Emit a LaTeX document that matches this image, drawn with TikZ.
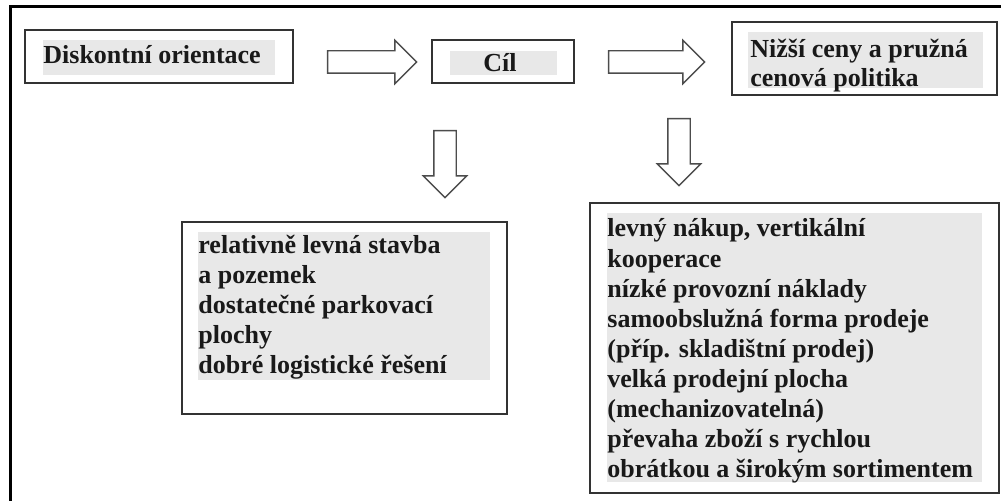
\documentclass[tikz,border=0pt]{standalone}
\usepackage{fontspec}
\setmainfont{Liberation Serif}
\usetikzlibrary{shapes.arrows}

\tikzset{
  frame/.style={rectangle, draw=black!80, line width=1pt, inner sep=0pt},
  shade/.style={rectangle, fill=black!9, inner sep=0pt},
  line/.style={anchor=base west, inner sep=0pt, text=black!90,
    font=\fontsize{13}{15}\selectfont\bfseries},
  blockarrow/.style={single arrow, draw=black!70, line width=0.7pt, fill=white,
    inner xsep=0pt, inner ysep=5.25pt, single arrow head extend=5.25pt,
    single arrow tip angle=90}
}

\begin{document}
\begin{tikzpicture}[x=0.5pt,y=-0.5pt]
                \useasboundingbox (0,0) rectangle (1001,501);
                \clip (0,0) rectangle (1001,501);
                % Draw the outer frame (cut off at the right and bottom)
                \draw[line width=1.5pt] (10,520) -- (10,7) -- (1020,7);
                % Draw the boxes of the top row
                \node[frame, minimum width=134pt, minimum height=26.5pt] (disk) at (159,56.5) {};
                \node[shade, minimum width=116pt, minimum height=17.5pt] (diskG) at (159,57.5) {};
                \node[line] (diskT) at (43,64) {Diskontní orientace};
                \node[frame, minimum width=71pt, minimum height=21.5pt] (cil) at (503,61.5) {};
                \node[shade, minimum width=53.5pt, minimum height=12pt] (cilG) at (503.5,63) {};
                \node[line] (cilT) at (483,72) {Cíl};
                \node[frame, minimum width=132.5pt, minimum height=36.5pt] (cena) at (864.5,58.5) {};
                \node[shade, minimum width=117.5pt, minimum height=28pt] (cenaG) at (865.5,60) {};
                \node[line] (cenaT1) at (750,58) {Nižší ceny a pružná};
                \node[line] (cenaT2) at (750,87) {cenová politika};
                % Draw the block arrows
                \node[blockarrow, minimum height=44.5pt] (toCil) at (366.5,62) {};
                \node[blockarrow, minimum height=48pt] (toCena) at (651,62) {};
                \node[blockarrow, minimum height=33.5pt, rotate=-90] (downL) at (445,158.5) {};
                \node[blockarrow, minimum height=33.5pt, rotate=-90] (downR) at (679,146.5) {};
                % Draw the two boxes of the bottom row
                \node[frame, minimum width=162.5pt, minimum height=96pt] (zaklad) at (344.5,318) {};
                \node[shade, minimum width=146pt, minimum height=74pt] (zakladG) at (344,306) {};
                \foreach \t [count=\i] in {relativně levná stavba, a pozemek, dostatečné parkovací, plochy, dobré logistické řešení}{
                    \node[line] (zakladT\i) at (198,{254+30*(\i-1)}) {\t};
                }
                \node[frame, minimum width=204.5pt, minimum height=145pt] (naklad) at (794.5,348) {};
                \node[shade, minimum width=187.5pt, minimum height=134.5pt] (nakladG) at (794.5,347.5) {};
                \foreach \t [count=\i] in {{levný nákup, vertikální}, kooperace, nízké provozní náklady,
                    samoobslužná forma prodeje, (příp. skladištní prodej), velká prodejní plocha,
                    (mechanizovatelná), převaha zboží s rychlou, obrátkou a širokým sortimentem}{
                    \node[line] (nakladT\i) at (607,{237+30.1*(\i-1)}) {\t};
                }
            \end{tikzpicture}
\end{document}
